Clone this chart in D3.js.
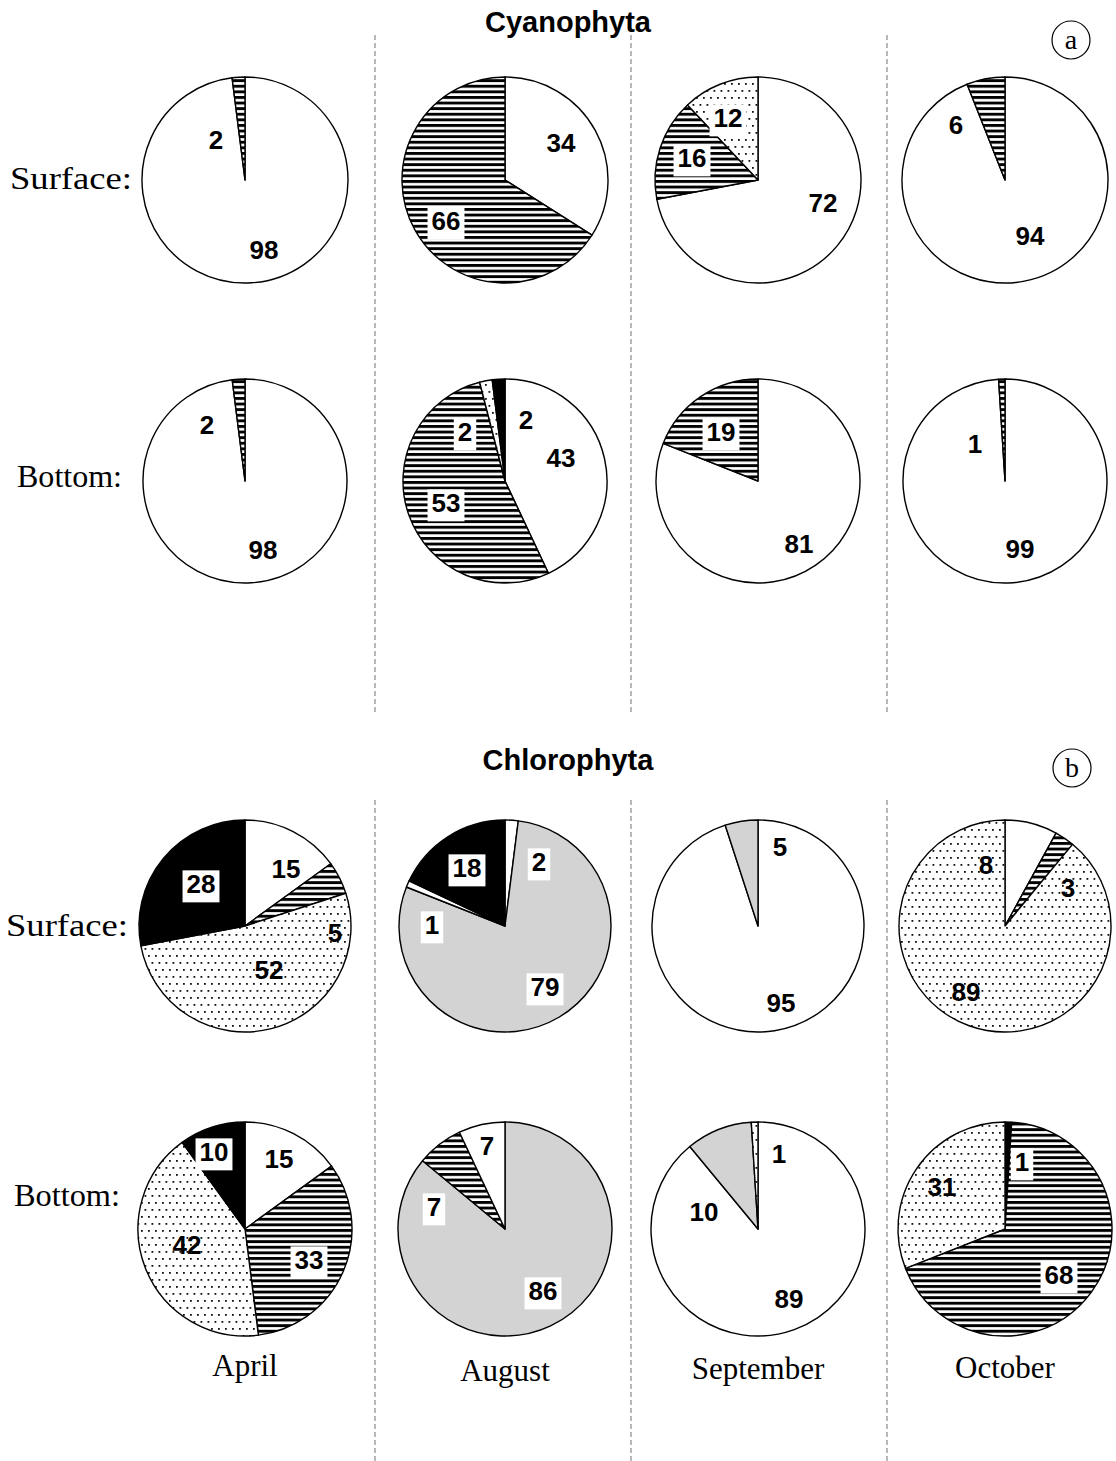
<!DOCTYPE html>
<html>
<head>
<meta charset="utf-8">
<script src="https://cdn.jsdelivr.net/npm/d3@7"></script>
<style>
  html, body { margin: 0; padding: 0; background: #fff; }
  svg { display: block; }
</style>
</head>
<body>
<script>
// ---- data -------------------------------------------------------------
const months = ["April", "August", "September", "October"];
const depths = ["Surface:", "Bottom:"];
const groupTitles = ["Cyanophyta", "Chlorophyta"];
const groupTags = ["a", "b"];

// Percent shares per month, listed clockwise from 12 o'clock
const cyanoSurfaceValues = [[98, 2], [34, 66], [72, 16, 12], [94, 6]];
const cyanoSurfaceFills = [["white", "stripes"], ["white", "stripes"], ["white", "stripes", "dots"], ["white", "stripes"]];
const cyanoBottomValues = [[98, 2], [43, 53, 2, 2], [81, 19], [99, 1]];
const cyanoBottomFills = [["white", "stripes"], ["white", "stripes", "dots", "black"], ["white", "stripes"], ["white", "stripes"]];

const chloroSurfaceValues = [[15, 5, 52, 28], [2, 79, 1, 18], [95, 5], [8, 3, 89]];
const chloroSurfaceFills = [["white", "stripes", "dots", "black"], ["white", "gray", "white", "black"], ["white", "gray"], ["white", "stripes", "dots"]];
const chloroBottomValues = [[15, 33, 42, 10], [86, 7, 7], [89, 10, 1], [1, 68, 31]];
const chloroBottomFills = [["white", "stripes", "dots", "black"], ["gray", "stripes", "white"], ["white", "gray", "dots"], ["black", "stripes", "dots"]];

// ---- label placement (offset from pie centre, boxed flag) -------------
const cyanoSurfaceLabels = [
  [[19, 70, 0], [-29, -40, 0]],
  [[56, -37, 0], [-59, 41, 1]],
  [[65, 23, 0], [-66, -22, 1], [-30, -62, 1]],
  [[25, 56, 0], [-49, -55, 0]]
];
const cyanoBottomLabels = [
  [[18, 69, 0], [-38, -56, 0]],
  [[56, -23, 0], [-59, 22, 1], [-40, -49, 1], [21, -61, 0]],
  [[41, 63, 0], [-37, -49, 1]],
  [[15, 68, 0], [-30, -37, 0]]
];
const chloroSurfaceLabels = [
  [[41, -57, 0], [90, 7, 0], [24, 44, 0], [-44, -42, 1]],
  [[34, -64, 1], [40, 61, 1], [-73, -1, 1], [-38, -58, 1]],
  [[23, 77, 0], [22, -79, 0]],
  [[-19, -61, 0], [63, -38, 0], [-39, 66, 0]]
];
const chloroBottomLabels = [
  [[34, -70, 0], [64, 31, 1], [-58, 16, 0], [-31, -77, 1]],
  [[38, 62, 1], [-71, -22, 1], [-18, -83, 1]],
  [[31, 70, 0], [-54, -17, 0], [21, -75, 0]],
  [[17, -67, 1], [54, 46, 1], [-63, -42, 0]]
];

// ---- drawing ----------------------------------------------------------
const W = 1116, H = 1461;
const SANS = "'Liberation Sans', Arial, sans-serif";
const SERIF = "'Liberation Serif', 'Times New Roman', serif";

const svg = d3.select("body").append("svg")
  .attr("width", W).attr("height", H)
  .attr("viewBox", `0 0 ${W} ${H}`);

const defs = svg.append("defs");

const stripes = defs.append("pattern").attr("id", "stripes")
  .attr("patternUnits", "userSpaceOnUse").attr("width", 8).attr("height", 5.6);
stripes.append("rect").attr("width", 8).attr("height", 5.6).attr("fill", "#fff");
stripes.append("rect").attr("width", 8).attr("height", 2.9).attr("fill", "#000");

const dots = defs.append("pattern").attr("id", "dots")
  .attr("patternUnits", "userSpaceOnUse").attr("width", 7).attr("height", 14);
dots.append("rect").attr("width", 7).attr("height", 14).attr("fill", "#fff");
dots.append("rect").attr("x", 1).attr("y", 1).attr("width", 1.8).attr("height", 1.8).attr("fill", "#111");
dots.append("rect").attr("x", 4.5).attr("y", 8).attr("width", 1.8).attr("height", 1.8).attr("fill", "#111");

const fillFor = {
  white: "#ffffff",
  black: "#000000",
  gray: "#d3d3d3",
  stripes: "url(#stripes)",
  dots: "url(#dots)"
};

const x = d3.scaleOrdinal().domain(months).range([245, 505, 758, 1005]);
const rowKeys = ["cyano-surface", "cyano-bottom", "chloro-surface", "chloro-bottom"];
const y = d3.scaleOrdinal().domain(rowKeys).range([180, 481, 926, 1229]);
const radius = d3.scaleOrdinal().domain(rowKeys).range([103, 102, 106, 107]);

const rows = [
  { key: "cyano-surface", values: cyanoSurfaceValues, fills: cyanoSurfaceFills, labels: cyanoSurfaceLabels },
  { key: "cyano-bottom", values: cyanoBottomValues, fills: cyanoBottomFills, labels: cyanoBottomLabels },
  { key: "chloro-surface", values: chloroSurfaceValues, fills: chloroSurfaceFills, labels: chloroSurfaceLabels },
  { key: "chloro-bottom", values: chloroBottomValues, fills: chloroBottomFills, labels: chloroBottomLabels }
];

const pie = d3.pie().sort(null).value(d => d.value);

// column separators
const separatorX = [375, 631, 887];
const panelSpans = [[35, 715], [800, 1461]];
panelSpans.forEach(([y1, y2]) => {
  svg.append("g").selectAll("line").data(separatorX).join("line")
    .attr("x1", d => d).attr("x2", d => d)
    .attr("y1", y1).attr("y2", y2)
    .attr("stroke", "#8a8a8a").attr("stroke-width", 1.2)
    .attr("stroke-dasharray", "5,3");
});

// group titles and circled tags
const titleY = [32, 770];
const tagPos = [[1071, 40], [1072, 768]];
groupTitles.forEach((t, i) => {
  svg.append("text").attr("x", 568).attr("y", titleY[i])
    .attr("text-anchor", "middle")
    .attr("font-family", SANS).attr("font-weight", "bold").attr("font-size", 29)
    .text(t);
  const g = svg.append("g").attr("transform", `translate(${tagPos[i][0]},${tagPos[i][1]})`);
  g.append("circle").attr("r", 19).attr("fill", "none").attr("stroke", "#000").attr("stroke-width", 1.2);
  g.append("text").attr("y", 9).attr("text-anchor", "middle")
    .attr("font-family", SERIF).attr("font-size", 28).text(groupTags[i]);
});

// row labels
const rowLabelPos = [[10, 189, 122], [17, 487, 105], [6, 936, 122], [14, 1206, 106]];
rows.forEach((row, i) => {
  const [lx, ly, lw] = rowLabelPos[i];
  svg.append("text").attr("x", lx).attr("y", ly)
    .attr("font-family", SERIF).attr("font-size", 32)
    .attr("textLength", lw).attr("lengthAdjust", "spacingAndGlyphs")
    .text(depths[i % 2]);
});

// month labels
svg.append("g").selectAll("text").data(months).join("text")
  .attr("x", d => x(d)).attr("y", (d, i) => [1376, 1381, 1379, 1378][i])
  .attr("text-anchor", "middle")
  .attr("font-family", SERIF).attr("font-size", 31)
  .text(d => d);

// pies
rows.forEach(row => {
  const r = radius(row.key);
  const arc = d3.arc().innerRadius(0).outerRadius(r);
  months.forEach((m, mi) => {
    const slices = row.values[mi].map((v, k) => ({ value: v, fill: row.fills[mi][k], label: row.labels[mi][k] }));
    const g = svg.append("g").attr("transform", `translate(${x(m)},${y(row.key)})`);
    g.selectAll("path").data(pie(slices)).join("path")
      .attr("d", arc)
      .attr("fill", d => fillFor[d.data.fill])
      .attr("stroke", "#000").attr("stroke-width", 1.4)
      .attr("stroke-linejoin", "round");

    pie(slices).forEach(d => {
      const [dx, dy, boxed] = d.data.label;
      const lg = g.append("g");
      const t = lg.append("text")
        .attr("x", dx).attr("y", dy).attr("dy", "0.36em")
        .attr("text-anchor", "middle")
        .attr("font-family", SANS).attr("font-weight", "bold").attr("font-size", 26)
        .text(d.data.value);
      if (boxed) {
        const b = t.node().getBBox();
        lg.insert("rect", "text")
          .attr("x", b.x - 4).attr("y", b.y + 1)
          .attr("width", b.width + 8).attr("height", b.height + 2)
          .attr("fill", "#fff");
      }
    });
  });
});
</script>
</body>
</html>
